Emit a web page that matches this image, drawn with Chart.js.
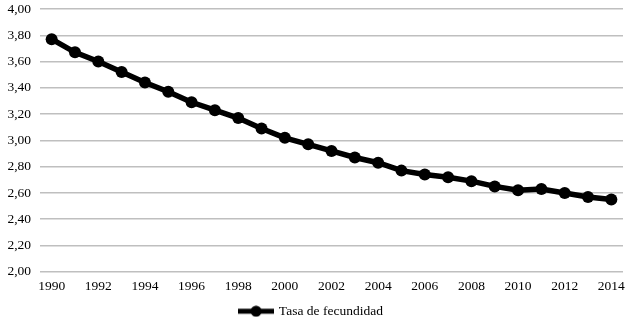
<!DOCTYPE html>
<html>
<head>
<meta charset="utf-8">
<script src="https://cdn.jsdelivr.net/npm/chart.js@4"></script>
<style>
  html, body { margin: 0; padding: 0; background: #fff; }
  #wrap { width: 640px; height: 322px; }
</style>
</head>
<body>
<div id="wrap"><canvas id="fertChart"></canvas></div>
<script>
// Fertility rate, 1990-2014
const years = ['1990', '1991', '1992', '1993', '1994', '1995', '1996', '1997', '1998', '1999',
    '2000', '2001', '2002', '2003', '2004', '2005', '2006', '2007', '2008', '2009',
    '2010', '2011', '2012', '2013', '2014'];
const fertility = [3.77, 3.67, 3.60, 3.52, 3.44, 3.37, 3.29, 3.23, 3.17, 3.09,
    3.02, 2.97, 2.92, 2.87, 2.83, 2.77, 2.74, 2.72, 2.69, 2.65,
    2.62, 2.63, 2.60, 2.57, 2.55];
const seriesLabel = 'Tasa de fecundidad';
const yMin = 2, yMax = 4, yStep = 0.2;

const fontFamily = '"Liberation Serif", "Times New Roman", serif';
const fontSize = 13.5;
const textColor = '#000';
const gridColor = '#bfbfbf';

// legend marker: line with a dot in the middle
function legendMarker() {
    const c = document.createElement('canvas');
    c.width = 36;
    c.height = 12;
    const g = c.getContext('2d');
    g.strokeStyle = '#000';
    g.lineWidth = 5;
    g.beginPath();
    g.moveTo(0, 6);
    g.lineTo(36, 6);
    g.stroke();
    g.fillStyle = '#000';
    g.beginPath();
    g.arc(18, 6, 5.5, 0, Math.PI * 2);
    g.fill();
    return c;
}

new Chart(document.getElementById('fertChart'), {
    type: 'line',
    data: {
        labels: years,
        datasets: [{
            label: seriesLabel,
            data: fertility,
            borderColor: '#000',
            backgroundColor: '#000',
            borderWidth: 5.5,
            pointRadius: 6,
            pointBackgroundColor: '#000',
            pointBorderColor: '#000',
            pointBorderWidth: 0,
            tension: 0,
            pointStyle: 'circle'
        }]
    },
    options: {
        responsive: true,
        maintainAspectRatio: false,
        animation: false,
        layout: {
            padding: { top: 9, right: 17, bottom: -6, left: 0 }
        },
        plugins: {
            legend: {
                position: 'bottom',
                labels: {
                    color: textColor,
                    font: { family: fontFamily, size: fontSize },
                    usePointStyle: true,
                    pointStyleWidth: 32,
                    padding: 2.5,
                    generateLabels: (chart) => [{
                        text: seriesLabel,
                        pointStyle: legendMarker(),
                        fillStyle: '#000',
                        strokeStyle: '#000',
                        lineWidth: 0,
                        datasetIndex: 0,
                        hidden: false
                    }]
                }
            },
            tooltip: { enabled: false }
        },
        scales: {
            x: {
                offset: true,
                grid: { display: false, drawTicks: false },
                border: { display: false },
                ticks: {
                    color: textColor,
                    font: { family: fontFamily, size: fontSize },
                    padding: 7,
                    autoSkip: false,
                    maxRotation: 0,
                    callback: function (value, index) {
                        return index % 2 === 0 ? this.getLabelForValue(value) : '';
                    }
                }
            },
            y: {
                min: yMin,
                max: yMax,
                afterFit: (scale) => {
                    scale.width = 40;
                    scale.paddingTop = 0;
                    scale.paddingBottom = 0;
                },
                grid: { color: gridColor, lineWidth: 1.5, drawTicks: false },
                border: { display: false },
                ticks: {
                    stepSize: yStep,
                    color: textColor,
                    font: { family: fontFamily, size: fontSize },
                    padding: 9,
                    callback: (v) => v.toFixed(2).replace('.', ',')
                }
            }
        }
    }
});
</script>
</body>
</html>
